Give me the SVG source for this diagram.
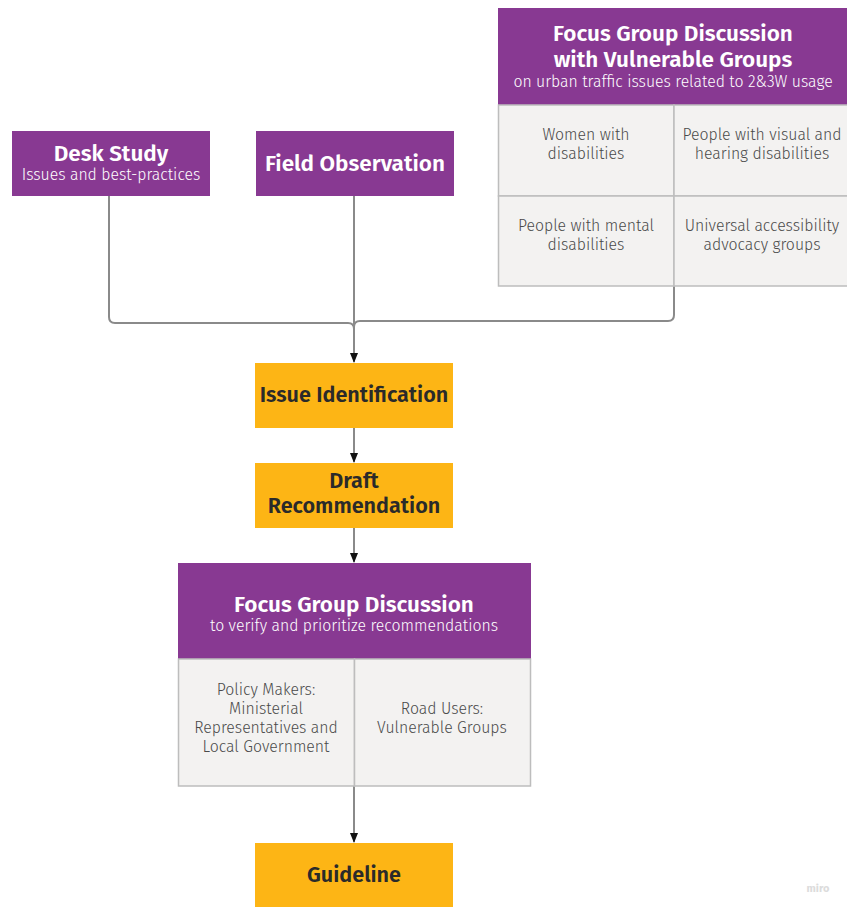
<svg xmlns="http://www.w3.org/2000/svg" width="847" height="907" viewBox="0 0 847 907">
<defs>
<style>
.purple{fill:#883992}
.yellow{fill:#FDB515}
.cell{fill:#F3F2F1;stroke:#BDBDBD;stroke-width:1.5}
.t{font-family:"Fira Sans","Noto Sans","Open Sans",sans-serif;text-anchor:middle}
.wt{fill:#ffffff;font-weight:600;font-size:22.5px}
.ws{fill:#ffffff;font-size:15.8px;font-weight:300}
.yt{fill:#2a2a2a;font-weight:600;font-size:21.6px}
.ct{fill:#4a4a4a;font-size:15.8px;font-weight:300}
.conn{fill:none;stroke:#8a8a8a;stroke-width:2}
</style>
<marker id="arr" viewBox="0 0 10 10" refX="9" refY="5" markerWidth="10" markerHeight="10" markerUnits="userSpaceOnUse" orient="auto">
<path d="M0,1 L10,5 L0,9 Z" fill="#111"/>
</marker>
</defs>
<rect width="847" height="907" fill="#ffffff"/>

<g id="connectors">
<path class="conn" d="M109,196 V317 Q109,323 115,323 H348 Q354,323 354,329"/>
<path class="conn" d="M674,286 V315 Q674,321 668,321 H360 Q354,321 354,327"/>
<path class="conn" d="M354,196 V362" marker-end="url(#arr)"/>
<path class="conn" d="M354,428 V462" marker-end="url(#arr)"/>
<path class="conn" d="M354,528 V562" marker-end="url(#arr)"/>
<path class="conn" d="M354,786 V842" marker-end="url(#arr)"/>
</g>

<g id="desk-study">
<rect class="purple" x="12" y="131" width="198" height="65"/>
<text class="t wt" x="111" y="161">Desk Study</text>
<text class="t ws" x="111" y="180">Issues and best-practices</text>
</g>

<g id="field-observation">
<rect class="purple" x="256" y="131" width="198" height="65"/>
<text class="t wt" x="355" y="171">Field Observation</text>
</g>

<g id="fgd-vulnerable">
<rect class="purple" x="498" y="8" width="349" height="97"/>
<text class="t wt" x="673" y="41">Focus Group Discussion</text>
<text class="t wt" x="673" y="67">with Vulnerable Groups</text>
<text class="t ws" x="673" y="87">on urban traffic issues related to 2&amp;3W usage</text>
<rect class="cell" x="498.5" y="105" width="175.5" height="91"/>
<rect class="cell" x="674" y="105" width="175" height="91"/>
<rect class="cell" x="498.5" y="196" width="175.5" height="90"/>
<rect class="cell" x="674" y="196" width="175" height="90"/>
<text class="t ct" x="586" y="140">Women with</text>
<text class="t ct" x="586" y="159">disabilities</text>
<text class="t ct" x="762" y="140">People with visual and</text>
<text class="t ct" x="762" y="159">hearing disabilities</text>
<text class="t ct" x="586" y="231">People with mental</text>
<text class="t ct" x="586" y="250">disabilities</text>
<text class="t ct" x="762" y="231">Universal accessibility</text>
<text class="t ct" x="762" y="250">advocacy groups</text>
</g>

<g id="issue-identification">
<rect class="yellow" x="255" y="363" width="198" height="65"/>
<text class="t yt" x="354" y="402">Issue Identification</text>
</g>

<g id="draft-recommendation">
<rect class="yellow" x="255" y="463" width="198" height="65"/>
<text class="t yt" x="354" y="488">Draft</text>
<text class="t yt" x="354" y="513">Recommendation</text>
</g>

<g id="fgd-verify">
<rect class="purple" x="178" y="563" width="353" height="96"/>
<text class="t wt" x="354" y="612">Focus Group Discussion</text>
<text class="t ws" x="354" y="631">to verify and prioritize recommendations</text>
<rect class="cell" x="178.5" y="659" width="176" height="127"/>
<rect class="cell" x="354.5" y="659" width="176" height="127"/>
<text class="t ct" x="266" y="695">Policy Makers:</text>
<text class="t ct" x="266" y="714">Ministerial</text>
<text class="t ct" x="266" y="733">Representatives and</text>
<text class="t ct" x="266" y="752">Local Government</text>
<text class="t ct" x="442" y="714">Road Users:</text>
<text class="t ct" x="442" y="733">Vulnerable Groups</text>
</g>

<g id="guideline">
<rect class="yellow" x="255" y="843" width="198" height="64"/>
<text class="t yt" x="354" y="882">Guideline</text>
</g>

<text class="t" x="818" y="892" font-size="11" fill="#dcdcdc" font-weight="bold">miro</text>
</svg>
